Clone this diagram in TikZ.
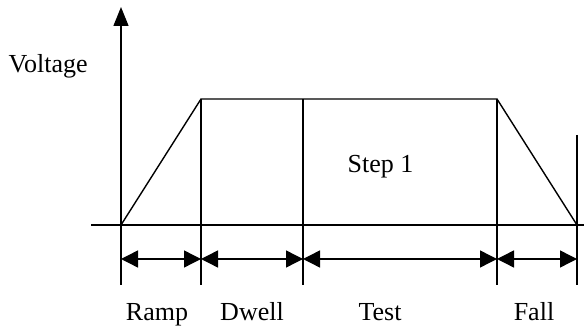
\documentclass[tikz,border=0pt]{standalone}
\usepackage{fontspec}
\setmainfont{Liberation Serif}
\usetikzlibrary{arrows.meta}
\begin{document}
\begin{tikzpicture}[x=1pt,y=-1pt,line width=1.4pt,
    axistip/.style={-{Triangle[length=19pt,width=15pt]}},
    span/.style={{Triangle[length=17pt,width=17pt]}-{Triangle[length=17pt,width=17pt]}},
    lbl/.style={font=\fontsize{26}{30}\selectfont,inner sep=0pt,anchor=base}]
    \useasboundingbox (0,0) rectangle (584,328);
    \draw[axistip] (121,285) -- (121,7);
    \draw (91,225) -- (584,225);
    \draw (121,225) -- (201,99) -- (497,99) -- (577,225);
    \foreach \x in {201,303,497} \draw (\x,99) -- (\x,285);
    \draw (577,135) -- (577,285);
    \draw[span] (121,259) -- (201,259);
    \draw[span] (201,259) -- (303,259);
    \draw[span] (303,259) -- (497,259);
    \draw[span] (497,259) -- (577,259);
    \node[lbl,anchor=base west] (volt) at (8,73) {Voltage};
    \node[lbl,anchor=base west] (step) at (347,173) {Step 1};
    \node[lbl] (ramp) at (157,321) {Ramp};
    \node[lbl] (dwell) at (252,321) {Dwell};
    \node[lbl] (test) at (380,321) {Test};
    \node[lbl] (fall) at (534,321) {Fall};
  \end{tikzpicture}
\end{document}
